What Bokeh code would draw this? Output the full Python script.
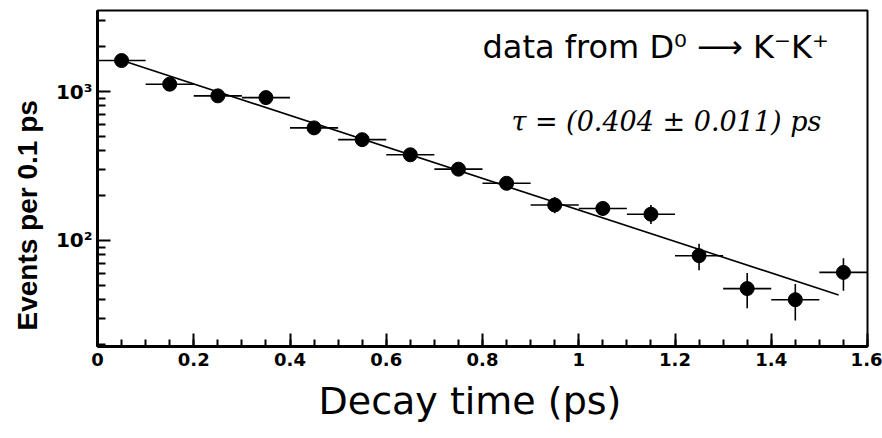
from bokeh.plotting import figure
from bokeh.models import FixedTicker, Label, Range1d, Title
from bokeh.embed import file_html
from bokeh.resources import INLINE

# ---- data ----
bin_centers = [0.05, 0.15, 0.25, 0.35, 0.45, 0.55, 0.65, 0.75,
               0.85, 0.95, 1.05, 1.15, 1.25, 1.35, 1.45, 1.55]
events = [1615, 1120, 935, 910, 570, 475, 376, 301,
          242, 173, 164, 150, 79, 47.5, 40, 61]
err_low = [45, 38, 35, 34, 28, 25, 22, 20, 18, 21, 18, 21, 16, 12.5, 11, 15]
err_high = [45, 38, 35, 34, 28, 25, 22, 20, 18, 23, 20, 23, 16, 13, 11, 15]
bin_half_width = 0.05

fit_t = [0.05, 1.54]
fit_n = [1620, 43]

x_major = [0, 0.2, 0.4, 0.6, 0.8, 1.0, 1.2, 1.4, 1.6]
x_labels = ["0", "0.2", "0.4", "0.6", "0.8", "1", "1.2", "1.4", "1.6"]
x_minor = [0.05 * i for i in range(33)]
y_major = [100, 1000]
y_labels = ["10²", "10³"]
y_minor = [20, 30, 40, 50, 60, 70, 80, 90, 200, 300, 400, 500, 600, 700, 800, 900, 2000, 3000]

title_text = "data from D⁰ ⟶ K⁻K⁺"
tau_text = "τ = (0.404 ± 0.011) ps"
x_title = "Decay time (ps)"
y_title = "Events per 0.1 ps"

# ---- figure ----
p = figure(width=882, height=438, y_axis_type="log",
           x_range=Range1d(0, 1.6), y_range=Range1d(19.4, 3500),
           output_backend="svg", toolbar_location=None,
           min_border_left=97, min_border_right=15,
           min_border_top=10, min_border_bottom=92)
p.grid.visible = False
p.background_fill_color = "white"
p.border_fill_color = "white"
p.outline_line_color = "black"
p.outline_line_width = 2

# error bars
x0 = [t - bin_half_width for t in bin_centers]
x1 = [t + bin_half_width for t in bin_centers]
p.segment(x0=x0, y0=events, x1=x1, y1=events, line_color="black", line_width=1.6)
ylo = [n - e for n, e in zip(events, err_low)]
yhi = [n + e for n, e in zip(events, err_high)]
p.segment(x0=bin_centers, y0=ylo, x1=bin_centers, y1=yhi, line_color="black", line_width=1.6)

# fit line
p.line(fit_t, fit_n, line_color="black", line_width=1.6)

# data points
p.scatter(bin_centers, events, size=14, fill_color="black", line_color="black")

# axes
xa = p.xaxis[0]
xa.ticker = FixedTicker(ticks=x_major, minor_ticks=x_minor)
xa.major_label_overrides = {t: l for t, l in zip(x_major, x_labels)}
xa.major_tick_in = 13
xa.major_tick_out = 0
xa.minor_tick_in = 7
xa.minor_tick_out = 0
xa.axis_line_width = 3
xa.major_tick_line_width = 2
xa.minor_tick_line_width = 2
xa.major_label_text_font = "DejaVu Sans"
xa.major_label_text_font_style = "bold"
xa.major_label_text_font_size = "18px"
xa.major_label_text_color = "black"
xa.major_label_standoff = 6

ya = p.yaxis[0]
ya.ticker = FixedTicker(ticks=y_major, minor_ticks=y_minor)
ya.major_label_overrides = {t: l for t, l in zip(y_major, y_labels)}
ya.major_tick_in = 13
ya.major_tick_out = 0
ya.minor_tick_in = 8
ya.minor_tick_out = 0
ya.axis_line_width = 3
ya.major_tick_line_width = 2
ya.minor_tick_line_width = 2
ya.major_label_text_font = "DejaVu Sans"
ya.major_label_text_font_style = "bold"
ya.major_label_text_font_size = "20px"
ya.major_label_text_color = "black"
ya.major_label_standoff = 5

# axis titles as side titles so they can be offset like the reference
p.add_layout(Title(text=y_title, align="left", offset=16, standoff=16,
                   vertical_align="top",
                   text_font="Liberation Sans", text_font_style="bold",
                   text_font_size="28px", text_color="black"), "left")
p.add_layout(Title(text=x_title, align="left", offset=221, standoff=20,
                   vertical_align="top",
                   text_font="DejaVu Sans", text_font_style="normal",
                   text_font_size="38px", text_color="black"), "below")

p.add_layout(Label(x=0.80, y=1977, text=title_text,
                   text_align="left", text_baseline="middle",
                   text_font="DejaVu Sans", text_font_size="32px",
                   text_color="black"))
p.add_layout(Label(x=0.86, y=633, text=tau_text,
                   text_align="left", text_baseline="middle",
                   text_font="DejaVu Serif", text_font_style="italic",
                   text_font_size="27px", text_color="black"))

open("out.html", "w").write(file_html(p, INLINE))
